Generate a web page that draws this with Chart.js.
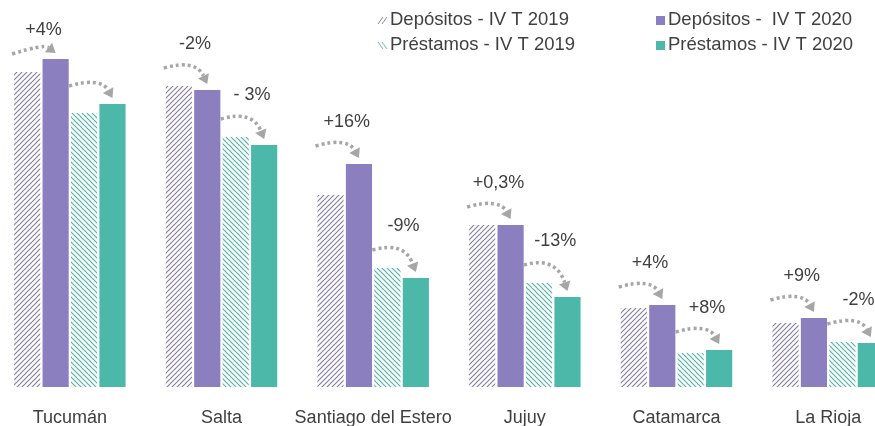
<!DOCTYPE html>
<html>
<head>
<meta charset="utf-8">
<title>Depósitos y préstamos - NOA</title>
<script src="https://cdn.jsdelivr.net/npm/chart.js"></script>
<style>
  body { margin:0; background:#fff; overflow:hidden; }
  #wrap { position:absolute; left:-6px; top:0; width:910px; height:426px; }
</style>
</head>
<body>
<div id="wrap"><canvas id="chart"></canvas></div>
<script>
const provincias = ['Tucumán', 'Salta', 'Santiago del Estero', 'Jujuy', 'Catamarca', 'La Rioja'];
const depositos2019 = [315, 301, 192, 162, 79, 64];
const depositos2020 = [328, 297, 223, 162, 82, 69];
const prestamos2019 = [274, 250, 119, 104, 34, 45];
const prestamos2020 = [283, 242, 109, 90, 37, 44];
const varDepositos = ['+4%', '-2%', '+16%', '+0,3%', '+4%', '+9%'];
const varPrestamos = ['', '- 3%', '-9%', '-13%', '+8%', '-2%'];

const PURPLE = '#8c7fbf';
const TEAL = '#4bb8aa';
const TEXT = '#404040';
const FONT = '"Liberation Sans", Arial, sans-serif';

function hatch(color, dir) {
  const c = document.createElement('canvas');
  c.width = 5; c.height = 5;
  const g = c.getContext('2d');
  g.fillStyle = '#fff';
  g.fillRect(0, 0, 5, 5);
  g.strokeStyle = color;
  g.lineWidth = 1.2;
  g.beginPath();
  if (dir > 0) {
    g.moveTo(-1, 6); g.lineTo(6, -1);
    g.moveTo(-1, 1); g.lineTo(1, -1);
    g.moveTo(4, 6); g.lineTo(6, 4);
  } else {
    g.moveTo(-1, -1); g.lineTo(6, 6);
    g.moveTo(-1, 4); g.lineTo(1, 6);
    g.moveTo(4, -1); g.lineTo(6, 1);
  }
  g.stroke();
  return g.createPattern(c, 'repeat');
}

function drawArrow(ctx, a, b, label) {
  const top = Math.min(a.y, b.y);
  const ly = Math.max(top - 42, 30);
  const sx = a.x - a.width / 2 - 2, sy = ly + 24;
  const ex = b.x, ey = b.y - 6;
  const cx = (sx + ex) / 2 + 10, cy = Math.min(sy, ey) - 9;
  ctx.save();
  ctx.strokeStyle = '#a6a6a6';
  ctx.fillStyle = '#a6a6a6';
  ctx.lineWidth = 3.5;
  ctx.setLineDash([3, 3]);
  const ang = Math.atan2(ey - cy, ex - cx);
  const bx = ex - Math.cos(ang) * 9, by = ey - Math.sin(ang) * 9;
  ctx.beginPath();
  ctx.moveTo(sx, sy);
  ctx.quadraticCurveTo(cx, cy, bx, by);
  ctx.stroke();
  ctx.setLineDash([]);
  ctx.beginPath();
  ctx.moveTo(ex, ey);
  ctx.lineTo(bx + Math.cos(ang + Math.PI / 2) * 6, by + Math.sin(ang + Math.PI / 2) * 6);
  ctx.lineTo(bx - Math.cos(ang + Math.PI / 2) * 6, by - Math.sin(ang + Math.PI / 2) * 6);
  ctx.closePath();
  ctx.fill();
  if (label) {
    ctx.fillStyle = TEXT;
    ctx.font = '18px ' + FONT;
    ctx.textAlign = 'center';
    ctx.textBaseline = 'middle';
    ctx.fillText(label, (a.x + b.x) / 2 + 2, ly);
  }
  ctx.restore();
}

const annotations = {
  id: 'annotations',
  afterDatasetsDraw(chart) {
    const ctx = chart.ctx;
    const m = [0, 1, 2, 3].map(i => chart.getDatasetMeta(i).data);
    provincias.forEach((p, i) => {
      drawArrow(ctx, m[0][i], m[1][i], varDepositos[i]);
      drawArrow(ctx, m[2][i], m[3][i], varPrestamos[i]);
    });

    // legend, two columns at the top right
    const items = [
      { text: 'Depósitos - IV T 2019', x: 384, y: 20, kind: 'hatch', color: '#8a84a8', dir: 1 },
      { text: 'Préstamos - IV T 2019', x: 384, y: 45, kind: 'hatch', color: '#6cbdb2', dir: -1 },
      { text: 'Depósitos -  IV T 2020', x: 662, y: 20, kind: 'box', color: PURPLE },
      { text: 'Préstamos - IV T 2020', x: 662, y: 45, kind: 'box', color: TEAL }
    ];
    ctx.save();
    ctx.font = '18.5px ' + FONT;
    ctx.textBaseline = 'middle';
    ctx.textAlign = 'left';
    items.forEach(it => {
      if (it.kind === 'box') {
        ctx.fillStyle = it.color;
        ctx.fillRect(it.x, it.y - 4, 9, 9);
      } else {
        ctx.strokeStyle = it.color;
        ctx.lineWidth = 1;
        ctx.beginPath();
        for (let k = 0; k < 2; k++) {
          const o = k * 4;
          if (it.dir > 0) { ctx.moveTo(it.x + o, it.y + 4); ctx.lineTo(it.x + o + 5, it.y - 3); }
          else { ctx.moveTo(it.x + o, it.y - 3); ctx.lineTo(it.x + o + 5, it.y + 4); }
        }
        ctx.stroke();
      }
      ctx.fillStyle = TEXT;
      ctx.fillText(it.text, it.x + 12, it.y);
    });
    ctx.restore();
  }
};

new Chart(document.getElementById('chart'), {
  type: 'bar',
  data: {
    labels: provincias,
    datasets: [
      { label: 'Depósitos - IV T 2019', data: depositos2019, backgroundColor: hatch('#857fa6', 1) },
      { label: 'Depósitos - IV T 2020', data: depositos2020, backgroundColor: PURPLE },
      { label: 'Préstamos - IV T 2019', data: prestamos2019, backgroundColor: hatch('#55b3a6', -1) },
      { label: 'Préstamos - IV T 2020', data: prestamos2020, backgroundColor: TEAL }
    ]
  },
  options: {
    responsive: true,
    maintainAspectRatio: false,
    animation: false,
    categoryPercentage: 0.75,
    barPercentage: 0.92,
    layout: { padding: { top: 7, left: 0, right: 0, bottom: 0 } },
    scales: {
      x: {
        grid: { display: false, drawTicks: false },
        border: { display: false },
        ticks: { color: TEXT, font: { size: 18, family: FONT }, padding: 20, maxRotation: 0, autoSkip: false },
        afterFit(scale) { scale.height = 39; }
      },
      y: { display: false, min: 0, max: 380 }
    },
    plugins: {
      legend: { display: false },
      tooltip: { enabled: false }
    }
  },
  plugins: [annotations]
});
</script>
</body>
</html>
